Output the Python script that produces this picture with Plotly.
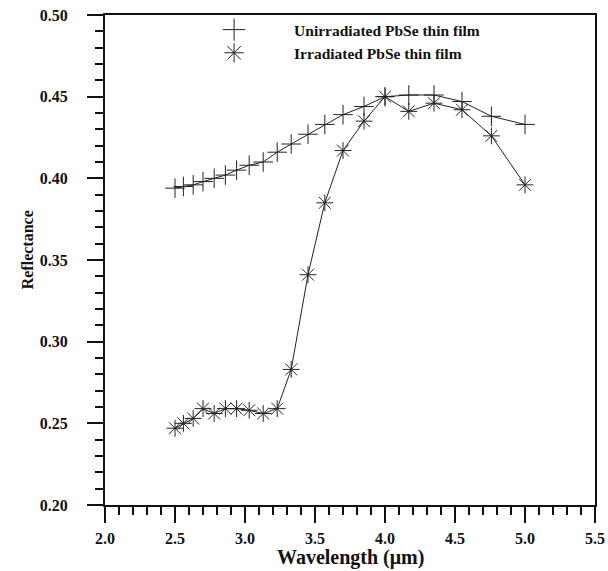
import plotly.graph_objects as go

wavelength = [2.50, 2.56, 2.63, 2.70, 2.78, 2.86, 2.94, 3.03, 3.13, 3.23, 3.33,
              3.45, 3.57, 3.70, 3.85, 4.00, 4.17, 4.35, 4.55, 4.76, 5.00]
unirradiated = [0.394, 0.395, 0.396, 0.398, 0.400, 0.402, 0.405, 0.408, 0.410, 0.416, 0.421,
                0.427, 0.433, 0.439, 0.444, 0.450, 0.451, 0.451, 0.447, 0.438, 0.433]
irradiated = [0.247, 0.250, 0.253, 0.259, 0.256, 0.259, 0.259, 0.258, 0.256, 0.259, 0.283,
              0.341, 0.385, 0.417, 0.435, 0.450, 0.441, 0.446, 0.442, 0.426, 0.396]
series_names = ["Unirradiated PbSe thin film", "Irradiated PbSe thin film"]
symbols = ["cross-thin", "asterisk"]
x_ticks = [2.0, 2.5, 3.0, 3.5, 4.0, 4.5, 5.0, 5.5]
y_ticks = [0.20, 0.25, 0.30, 0.35, 0.40, 0.45, 0.50]
x_title = "Wavelength (μm)"
y_title = "Reflectance"

FONT = "Liberation Serif"
ink = "#222222"

fig = go.Figure()
for name, ys, sym in zip(series_names, [unirradiated, irradiated], symbols):
    fig.add_trace(go.Scatter(
        x=wavelength, y=ys, name=name, mode="lines+markers", showlegend=False,
        line=dict(color=ink, width=1),
        marker=dict(symbol=sym, size=14, color=ink, line=dict(color=ink, width=1)),
    ))
    # legend entry: marker only (no data drawn)
    fig.add_trace(go.Scatter(
        x=[None], y=[None], name=name, mode="markers",
        marker=dict(symbol=sym, size=16, color=ink, line=dict(color=ink, width=1)),
    ))

axis_common = dict(
    showline=True, linecolor="#111", linewidth=2, mirror=True,
    ticks="outside", ticklen=16, tickwidth=1.5, tickcolor="#111",
    showgrid=False, zeroline=False,
    tickfont=dict(family=FONT, size=16, color="#111", weight="bold"),
)

fig.update_xaxes(
    range=[2.0, 5.5], tickvals=x_ticks, tickformat=".1f",
    minor=dict(dtick=0.1, ticks="outside", ticklen=8, tickwidth=1.5, tickcolor="#111"),
    ticklabelstandoff=2,
    **axis_common,
)
fig.update_yaxes(
    range=[0.20, 0.50], tickvals=y_ticks, tickformat=".2f",
    minor=dict(dtick=0.01, ticks="outside", ticklen=8, tickwidth=1.5, tickcolor="#111"),
    ticklabelstandoff=16,
    **axis_common,
)

fig.add_annotation(
    text="<b>" + x_title + "</b>", xref="paper", yref="paper",
    x=0.5, y=-0.108, xanchor="center", yanchor="middle", showarrow=False,
    font=dict(family=FONT, size=20, color="#111"),
)
fig.add_annotation(
    text="<b>" + y_title + "</b>", xref="paper", yref="paper",
    x=-0.159, y=0.52, xanchor="center", yanchor="middle", showarrow=False, textangle=-90,
    font=dict(family=FONT, size=16, color="#111"),
)

fig.update_layout(
    width=608, height=571,
    margin=dict(l=105, r=13, t=15, b=66, autoexpand=False),
    paper_bgcolor="white", plot_bgcolor="white",
    showlegend=True,
    legend=dict(
        x=0.141, y=1.004, xanchor="left", yanchor="top",
        bgcolor="rgba(0,0,0,0)", borderwidth=0,
        font=dict(family=FONT, size=15.5, color="#111", weight="bold"),
        itemwidth=110, tracegroupgap=0,
    ),
)

fig.write_html("out.html", config={"displayModeBar": False},
               post_script="document.body.style.margin='0';")
